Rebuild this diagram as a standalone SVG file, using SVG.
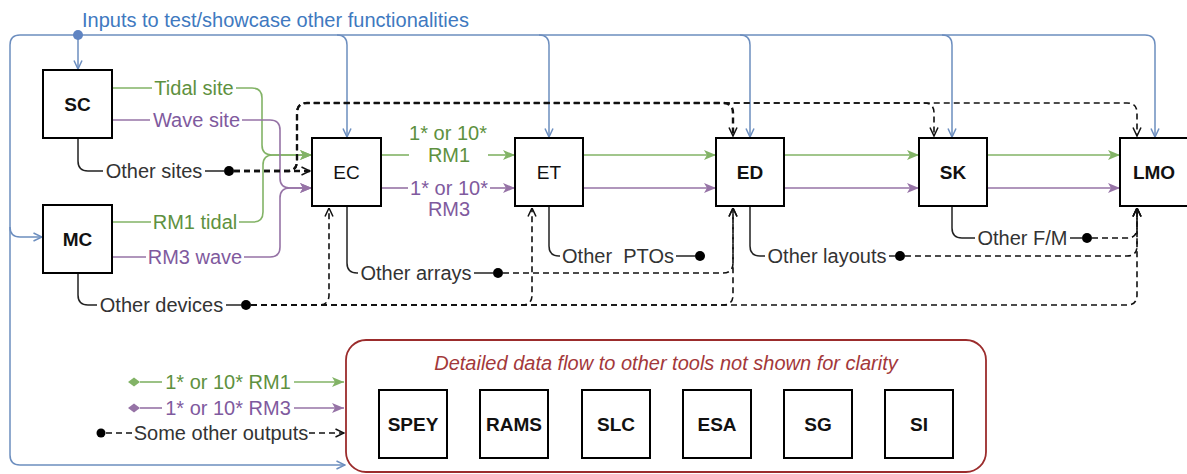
<svg xmlns="http://www.w3.org/2000/svg" width="1187" height="474" viewBox="0 0 1187 474">
  <style>
    .box{fill:#fff;stroke:#000;stroke-width:2}
    .t{font-family:"Liberation Sans",Arial,sans-serif;font-size:20px;fill:#333;text-anchor:middle}
    .bl{font-family:"Liberation Sans",Arial,sans-serif;font-size:19px;fill:#111;text-anchor:middle}
    .b{font-weight:bold}
    .g{fill:#5e9140}
    .p{fill:#7f5a9e}
    .blue{fill:none;stroke:#6c8ebf;stroke-width:1.5}
    .grn{fill:none;stroke:#82b366;stroke-width:1.6}
    .pur{fill:none;stroke:#9673a6;stroke-width:1.6}
    .sol{fill:none;stroke:#222;stroke-width:1.5}
    .dsh{fill:none;stroke:#111;stroke-width:1.6;stroke-dasharray:6 4}
    .dshk{fill:none;stroke:#111;stroke-width:2.4;stroke-dasharray:6 4}
  </style>
  <defs>
    <marker id="aBlue" viewBox="0 0 10 10" refX="9.5" refY="5" markerWidth="10" markerHeight="10" markerUnits="userSpaceOnUse" orient="auto">
      <path d="M1,1 L9.5,5 L1,9" fill="none" stroke="#6c8ebf" stroke-width="1.5"/>
    </marker>
    <marker id="aOpen" viewBox="0 0 10 10" refX="9.5" refY="5" markerWidth="10" markerHeight="10" markerUnits="userSpaceOnUse" orient="auto">
      <path d="M1,1 L9.5,5 L1,9" fill="none" stroke="#111" stroke-width="1.5"/>
    </marker>
    <marker id="aGreen" viewBox="0 0 12 10" refX="12" refY="5" markerWidth="12" markerHeight="10" markerUnits="userSpaceOnUse" orient="auto">
      <path d="M0,0 L12,5 L0,10 L3,5 z" fill="#82b366"/>
    </marker>
    <marker id="aPurple" viewBox="0 0 12 10" refX="12" refY="5" markerWidth="12" markerHeight="10" markerUnits="userSpaceOnUse" orient="auto">
      <path d="M0,0 L12,5 L0,10 L3,5 z" fill="#9673a6"/>
    </marker>
  </defs>
  <rect width="1187" height="474" fill="#fff"/>

  <text x="82" y="27" font-family="Liberation Sans, Arial, sans-serif" font-size="20" fill="#4079c0">Inputs to test/showcase other functionalities</text>

  <g id="connectors">
    <!-- inputs bus (blue) -->
    <path class="blue" d="M78,35 H20 Q10,35 10,45 V455 Q10,465 20,465 H345" marker-end="url(#aBlue)"/>
    <path class="blue" d="M10,227 Q10,237 20,237 H42" marker-end="url(#aBlue)"/>
    <path class="blue" d="M78,35 V69" marker-end="url(#aBlue)"/>
    <path class="blue" d="M78,35 H1145 Q1155,35 1155,45 V137" marker-end="url(#aBlue)"/>
    <path class="blue" d="M337,35 Q347,35 347,45 V137" marker-end="url(#aBlue)"/>
    <path class="blue" d="M539,35 Q549,35 549,45 V137" marker-end="url(#aBlue)"/>
    <path class="blue" d="M740,35 Q750,35 750,45 V137" marker-end="url(#aBlue)"/>
    <path class="blue" d="M942,35 Q952,35 952,45 V137" marker-end="url(#aBlue)"/>
    <circle cx="78" cy="35" r="5" fill="#5f84c2"/>

    <!-- RM1 / tidal flow (green) -->
    <path class="grn" d="M112,88 H152"/>
    <path class="grn" d="M236,88 H252 Q262,88 262,98 V145 Q262,155 272,155 H312" marker-end="url(#aGreen)"/>
    <path class="grn" d="M112,222 H151"/>
    <path class="grn" d="M239,222 H253 Q263,222 263,212 V165 Q263,155 273,155 H312" marker-end="url(#aGreen)"/>
    <path class="grn" d="M381,155 H409"/>
    <path class="grn" d="M488,155 H515" marker-end="url(#aGreen)"/>
    <path class="grn" d="M583,155 H716" marker-end="url(#aGreen)"/>
    <path class="grn" d="M784,155 H919" marker-end="url(#aGreen)"/>
    <path class="grn" d="M987,155 H1120" marker-end="url(#aGreen)"/>

    <!-- RM3 / wave flow (purple) -->
    <path class="pur" d="M112,120 H150"/>
    <path class="pur" d="M242,120 H270 Q280,120 280,130 V178 Q280,188 290,188 H312" marker-end="url(#aPurple)"/>
    <path class="pur" d="M112,257 H146"/>
    <path class="pur" d="M244,257 H270 Q280,257 280,247 V198 Q280,188 290,188 H312" marker-end="url(#aPurple)"/>
    <path class="pur" d="M381,188 H408"/>
    <path class="pur" d="M490,188 H515" marker-end="url(#aPurple)"/>
    <path class="pur" d="M583,188 H716" marker-end="url(#aPurple)"/>
    <path class="pur" d="M784,188 H919" marker-end="url(#aPurple)"/>
    <path class="pur" d="M987,188 H1120" marker-end="url(#aPurple)"/>

    <!-- "other" outputs (solid part) -->
    <path class="sol" d="M78,138 V161 Q78,171 88,171 H103"/>
    <path class="sol" d="M205,171 H224"/>
    <path class="sol" d="M78,273 V295 Q78,305 88,305 H97"/>
    <path class="sol" d="M226,305 H241"/>
    <path class="sol" d="M347,206 V263 Q347,273 357,273 H358"/>
    <path class="sol" d="M474,273 H493"/>
    <path class="sol" d="M549,206 V246 Q549,256 559,256 H560"/>
    <path class="sol" d="M676,256 H695"/>
    <path class="sol" d="M750,206 V246 Q750,256 760,256 H765"/>
    <path class="sol" d="M889,256 H895"/>
    <path class="sol" d="M952,206 V228 Q952,238 962,238 H975"/>
    <path class="sol" d="M1070,238 H1082"/>

    <!-- "other" outputs (dashed part) -->
    <path class="dshk" d="M234,171 H310" marker-end="url(#aOpen)"/>
    <path class="dshk" d="M234,171 H287 Q297,171 297,161 V113 Q297,103 307,103 H723 Q733,103 733,113 V136" marker-end="url(#aOpen)"/>
    <path class="dsh" d="M234,171 H287 Q297,171 297,161 V113 Q297,103 307,103 H924 Q934,103 934,113 V136" marker-end="url(#aOpen)"/>
    <path class="dsh" d="M234,171 H287 Q297,171 297,161 V113 Q297,103 307,103 H1127 Q1137,103 1137,113 V136" marker-end="url(#aOpen)"/>

    <path class="dsh" d="M251,305 H319 Q329,305 329,295 V208" marker-end="url(#aOpen)"/>
    <path class="dsh" d="M251,305 H522 Q532,305 532,295 V208" marker-end="url(#aOpen)"/>
    <path class="dsh" d="M251,305 H723 Q733,305 733,295 V208" marker-end="url(#aOpen)"/>
    <path class="dsh" d="M251,305 H1127 Q1137,305 1137,295 V208" marker-end="url(#aOpen)"/>
    <path class="dsh" d="M503,273 H723 Q733,273 733,263 V208" marker-end="url(#aOpen)"/>
    <path class="dsh" d="M905,256 H1127 Q1137,256 1137,246 V208" marker-end="url(#aOpen)"/>
    <path class="dsh" d="M1092,238 H1127 Q1137,238 1137,228 V208" marker-end="url(#aOpen)"/>

    <circle cx="229" cy="171" r="5" fill="#000"/>
    <circle cx="246" cy="305" r="5" fill="#000"/>
    <circle cx="498" cy="273" r="5" fill="#000"/>
    <circle cx="700" cy="256" r="5" fill="#000"/>
    <circle cx="900" cy="256" r="5" fill="#000"/>
    <circle cx="1087" cy="238" r="5" fill="#000"/>

    <!-- key -->
    <polygon points="128,382 134,377.5 140,382 134,386.5" fill="#82b366"/>
    <path class="grn" d="M140,382 H162"/>
    <path class="grn" d="M294,382 H344" marker-end="url(#aGreen)"/>
    <polygon points="128,408 134,403.5 140,408 134,412.5" fill="#9673a6"/>
    <path class="pur" d="M140,408 H162"/>
    <path class="pur" d="M294,408 H344" marker-end="url(#aPurple)"/>
    <circle cx="101" cy="433" r="4.5" fill="#000"/>
    <path class="dsh" d="M106,433 H133"/>
    <path class="dsh" d="M309,433 H344" marker-end="url(#aOpen)"/>
  </g>

  <g id="edge-labels">
    <text class="t g" x="194" y="95">Tidal site</text>
    <text class="t p" x="196.5" y="127">Wave site</text>
    <text class="t" x="154" y="178">Other sites</text>
    <text class="t g" x="195" y="229">RM1 tidal</text>
    <text class="t p" x="195" y="264">RM3 wave</text>
    <text class="t" x="161.5" y="312">Other devices</text>
    <text class="t g" x="448" y="140">1* or 10*</text>
    <text class="t g" x="449" y="162">RM1</text>
    <text class="t p" x="449" y="195">1* or 10*</text>
    <text class="t p" x="449" y="216">RM3</text>
    <text class="t" x="416" y="280">Other arrays</text>
    <text class="t" x="618" y="263">Other&#160; PTOs</text>
    <text class="t" x="827" y="263">Other layouts</text>
    <text class="t" x="1022.5" y="245">Other F/M</text>
    <text class="t g" x="228" y="389">1* or 10* RM1</text>
    <text class="t p" x="228" y="415">1* or 10* RM3</text>
    <text class="t" x="221" y="440">Some other outputs</text>
  </g>

  <g id="node-SC"><rect class="box" x="43" y="70" width="69" height="68"/><text class="bl b" x="77.5" y="111">SC</text></g>
  <g id="node-MC"><rect class="box" x="43" y="205" width="69" height="68"/><text class="bl b" x="77.5" y="246">MC</text></g>
  <g id="node-EC"><rect class="box" x="312" y="138" width="69" height="68"/><text class="bl" x="346.5" y="179">EC</text></g>
  <g id="node-ET"><rect class="box" x="515" y="138" width="68" height="68"/><text class="bl" x="549" y="179">ET</text></g>
  <g id="node-ED"><rect class="box" x="716" y="138" width="68" height="68"/><text class="bl b" x="750" y="179">ED</text></g>
  <g id="node-SK"><rect class="box" x="919" y="138" width="68" height="68"/><text class="bl b" x="953" y="179">SK</text></g>
  <g id="node-LMO"><rect class="box" x="1120" y="138" width="68" height="68"/><text class="bl b" x="1154" y="179">LMO</text></g>

  <g id="other-tools">
    <rect x="346" y="340" width="640" height="132" rx="20" fill="none" stroke="#9b2c2c" stroke-width="1.8"/>
    <text x="666" y="370" font-family="Liberation Sans, Arial, sans-serif" font-size="20" font-style="italic" fill="#a3383a" text-anchor="middle">Detailed data flow to other tools not shown for clarity</text>
    <g id="node-SPEY"><rect class="box" x="379" y="390" width="68" height="68"/><text class="bl b" x="413" y="431">SPEY</text></g>
    <g id="node-RAMS"><rect class="box" x="480" y="390" width="68" height="68"/><text class="bl b" x="514" y="431">RAMS</text></g>
    <g id="node-SLC"><rect class="box" x="582" y="390" width="68" height="68"/><text class="bl b" x="616" y="431">SLC</text></g>
    <g id="node-ESA"><rect class="box" x="683" y="390" width="68" height="68"/><text class="bl b" x="717" y="431">ESA</text></g>
    <g id="node-SG"><rect class="box" x="784" y="390" width="68" height="68"/><text class="bl b" x="818" y="431">SG</text></g>
    <g id="node-SI"><rect class="box" x="885" y="390" width="68" height="68"/><text class="bl b" x="919" y="431">SI</text></g>
  </g>
</svg>
